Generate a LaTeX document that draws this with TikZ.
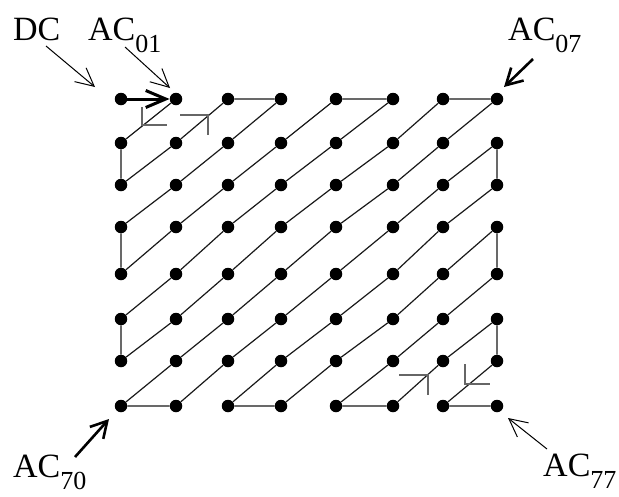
\documentclass[tikz,border=0pt]{standalone}
\usepackage{fontspec}
\setmainfont{Liberation Serif}
\usetikzlibrary{arrows.meta}
\newcommand\mylab[2]{#1\raisebox{-12pt}{\fontsize{26}{26}\selectfont #2}}
\tikzset{
  dot/.style={circle,fill=black,inner sep=0pt,minimum size=12.5pt},
  conn/.style={draw=black!90,line width=1.2pt},
  thinarr/.style={line width=1pt,-{Straight Barb[length=18pt,width=18pt]}},
  thickarr/.style={line width=2.6pt,-{Straight Barb[length=16pt,width=18pt]}},
  dirmark/.style={draw=black!60,line width=1.3pt},
  lab/.style={anchor=base west,inner sep=0pt,font=\fontsize{34}{34}\selectfont}
}
\begin{document}
\begin{tikzpicture}[x=1pt,y=-1pt]
\useasboundingbox (0,0) rectangle (619,496);
\foreach \r/\y in {0/99,1/143,2/185,3/227,4/274,5/319,6/361,7/406}
  \foreach \c/\x in {0/121,1/176,2/228,3/281,4/336,5/393,6/443,7/497}
    \node[dot] (d\r\c) at (\x,\y) {};
% zigzag scan
\draw[conn] (d01) -- (d10) -- (d20) -- (d11) -- (d02) -- (d03) -- (d12) -- (d21)
  -- (d30) -- (d40) -- (d31) -- (d22) -- (d13) -- (d04) -- (d05) -- (d14)
  -- (d23) -- (d32) -- (d41) -- (d50) -- (d60) -- (d51) -- (d42) -- (d33)
  -- (d24) -- (d15) -- (d06) -- (d07) -- (d16) -- (d25) -- (d34) -- (d43)
  -- (d52) -- (d61) -- (d70) -- (d71) -- (d62) -- (d53) -- (d44) -- (d35)
  -- (d26) -- (d17) -- (d27) -- (d36) -- (d45) -- (d54) -- (d63) -- (d72)
  -- (d73) -- (d64) -- (d55) -- (d46) -- (d37) -- (d47) -- (d56) -- (d65)
  -- (d74) -- (d75) -- (d66) -- (d57) -- (d67) -- (d76) -- (d77);
% bold first step
\draw[line width=3pt,-{Straight Barb[length=20pt,width=17pt]}] (d00) -- (d01);
% direction marks
\draw[dirmark] (142,107) -- (142,125) -- (167,125);
\draw[dirmark] (180,115) -- (208,115) -- (208,135);
\draw[dirmark] (399,375) -- (428,375) -- (428,395);
\draw[dirmark] (465,364) -- (465,384) -- (490,384);
% labels
\node[lab] (lDC) at (13,40) {DC};
\node[lab] (lA01) at (88,40) {\mylab{AC}{01}};
\node[lab] (lA07) at (508,40) {\mylab{AC}{07}};
\node[lab] (lA70) at (13,477) {\mylab{AC}{70}};
\node[lab] (lA77) at (543,476) {\mylab{AC}{77}};
% label arrows
\coordinate (sDC) at (46,46);   \coordinate (tDC) at (95,87);
\coordinate (s01) at (125,47);  \coordinate (t01) at (170,88);
\coordinate (s07) at (533,59);  \coordinate (t07) at (504,87);
\coordinate (s70) at (75,457);  \coordinate (t70) at (109,419);
\coordinate (s77) at (547,449); \coordinate (t77) at (508,418);
\draw[thinarr] (sDC) -- (tDC);
\draw[thinarr] (s01) -- (t01);
\draw[thickarr] (s07) -- (t07);
\draw[thickarr] (s70) -- (t70);
\draw[thinarr] (s77) -- (t77);
\end{tikzpicture}
\end{document}
